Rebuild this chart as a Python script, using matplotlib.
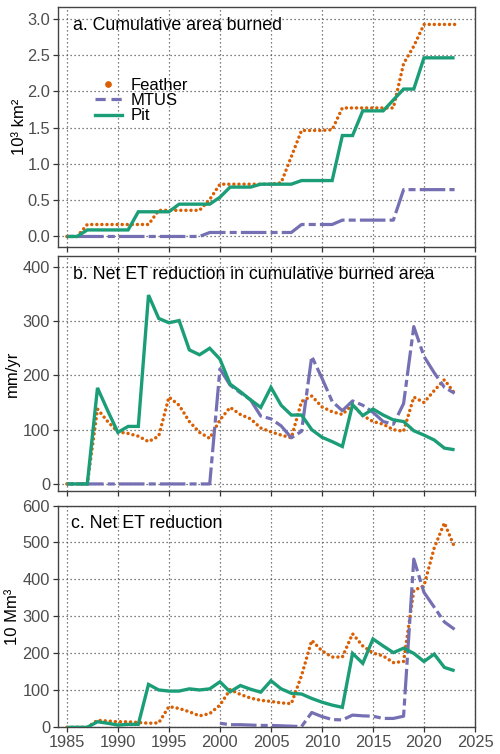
import numpy as np
import matplotlib
matplotlib.use("Agg")
import matplotlib.pyplot as plt
from matplotlib.lines import Line2D

plt.rcParams['font.family'] = ['Liberation Sans', 'DejaVu Sans']

years = list(range(1985, 2024))

# Panel a: cumulative area burned (10^3 km2)
feather_area = [0, 0, 0.165, 0.165, 0.165, 0.165, 0.165, 0.165, 0.165,
                0.36, 0.36, 0.36, 0.36, 0.36, 0.51, 0.72,
                0.72, 0.72, 0.72, 0.72, 0.72, 0.74, 1.10,
                1.46, 1.46, 1.46, 1.47,
                1.77, 1.77, 1.77, 1.77, 1.77, 1.77,
                2.38, 2.62, 2.92, 2.92, 2.92, 2.92]
mtus_area = [0] * 14 + [0.055] * 9 + [0.165] * 4 + [0.225] * 6 + [0.645] * 6
pit_area = [0, 0, 0.09, 0.09, 0.09, 0.09, 0.09,
            0.34, 0.34, 0.34, 0.34,
            0.445, 0.445, 0.445, 0.445, 0.54,
            0.68, 0.68, 0.68,
            0.72, 0.72, 0.72, 0.72,
            0.77, 0.77, 0.77, 0.77,
            1.39, 1.39, 1.73, 1.73, 1.73, 1.88, 2.03, 2.03,
            2.46, 2.46, 2.46, 2.46]

# Panel b: net ET reduction in cumulative burned area (mm/yr)
feather_et = [0, 0, 0, 138, 115, 96, 93, 88, 78, 88,
              160, 145, 115, 95, 84, 118, 141, 128, 120, 103,
              96, 90, 85, 152, 162, 142, 133, 128, 146, 126,
              115, 110, 100, 97, 160, 150, 172, 192, 167]
mtus_et = [0] * 15 + [212, 182, 168, 155, 125, 120, 107, 85, 97, 235,
                      195, 152, 135, 153, 145, 132, 115, 110, 148, 290,
                      235, 205, 178, 167]
pit_et = [0, 0, 0, 177, 135, 95, 106, 106, 348, 305,
          297, 301, 247, 238, 250, 230, 184, 170, 155, 141,
          178, 145, 127, 127, 100, 86, 78, 69, 146, 126,
          138, 127, 118, 115, 98, 90, 81, 66, 63]

# Panel c: net ET reduction (10 Mm3)
feather_vol = [0, 0, 0, 19, 17, 15, 15, 13, 11, 12,
               56, 51, 42, 31, 37, 60, 102, 89, 79, 73,
               70, 66, 64, 140, 235, 207, 190, 190, 253, 220,
               201, 193, 175, 178, 370, 383, 485, 553, 487]
mtus_vol = [np.nan] * 15 + [11, 7, 7, 6, 5, 5, 4, 3, 2, 40,
                            29, 21, 20, 33, 31, 30, 24, 24, 30, 455,
                            365, 325, 285, 265]
pit_vol = [0, 0, 0, 15, 11, 6, 8, 8, 116, 101,
           98, 98, 104, 101, 104, 123, 96, 113, 103, 95,
           126, 104, 92, 90, 78, 68, 60, 54, 200, 173,
           239, 220, 202, 214, 200, 178, 198, 162, 153]

c_feather = '#D95F02'
c_mtus = '#7570B3'
c_pit = '#1B9E77'

fig = plt.figure(figsize=(5, 7.54), dpi=100)
W, H = 500.0, 754.0
left, right = 57.7, 475.0
boxes = [(7, 247), (256, 491), (505.5, 727.3)]
axes = []
for top, bot in boxes:
    ax = fig.add_axes([left / W, 1 - bot / H, (right - left) / W, (bot - top) / H])
    axes.append(ax)

panels = [
    (feather_area, mtus_area, pit_area, (-0.145, 3.16), np.arange(0, 3.01, 0.5),
     "a. Cumulative area burned", "10³ km²", 19),
    (feather_et, mtus_et, pit_et, (-13, 420), np.arange(0, 401, 100),
     "b. Net ET reduction in cumulative burned area", "mm/yr", 12.5),
    (feather_vol, mtus_vol, pit_vol, (0, 600), np.arange(0, 601, 100),
     "c. Net ET reduction", "10 Mm³", 12.5),
]

for i, (ax, (fe, mt, pi, ylim, yt, title, ylab, labx)) in enumerate(zip(axes, panels)):
    ax.plot(years, fe, color=c_feather, lw=2.5, linestyle=(0, (0.01, 1.45)),
            dash_capstyle='round', zorder=3)
    ax.plot(years, mt, color=c_mtus, lw=2.3, linestyle=(0, (2.2, 1.3, 8, 1.3)),
            dash_capstyle='butt', zorder=4)
    ax.plot(years, pi, color=c_pit, lw=2.4, solid_capstyle='butt',
            solid_joinstyle='miter', zorder=5)
    ax.set_xlim(1984.1, 2025)
    ax.set_ylim(*ylim)
    ax.set_yticks(yt)
    if i == 0:
        ax.set_yticklabels([f"{v:.1f}" for v in yt])
    else:
        ax.set_yticklabels([f"{int(v)}" for v in yt])
    ax.set_xticks(range(1985, 2026, 5))
    if i < 2:
        ax.set_xticklabels([])
    ax.grid(True, color='#555555', lw=0.9, linestyle=(0, (1, 2.2)))
    ax.set_axisbelow(True)
    for s in ax.spines.values():
        s.set_color('#444444')
        s.set_linewidth(1.0)
    ax.tick_params(direction='out', length=3.5, width=0.9, color='#333333',
                   labelcolor='#4D4D4D', labelsize=11.8, pad=2)
    ax.text(0.036 if i < 2 else 0.031, 0.921, title, transform=ax.transAxes,
            ha='left', va='center', fontsize=12.8, color='black')
    top, bot = boxes[i]
    fig.text(labx / W, 1 - ((top + bot) / 2) / H, ylab, rotation=90,
             ha='center', va='center', fontsize=12, color='black')

handles = [
    Line2D([], [], color=c_feather, marker='o', markersize=3.8, linestyle='none'),
    Line2D([], [], color=c_mtus, lw=2.3, linestyle=(0, (3.2, 1.8)), dash_capstyle='butt'),
    Line2D([], [], color=c_pit, lw=2.4),
]
leg = axes[0].legend(handles, ["Feather", "MTUS", "Pit"], loc='upper left',
                     bbox_to_anchor=(0.089, 0.705), frameon=False, fontsize=12,
                     handlelength=1.6, handletextpad=0.55, labelspacing=0.02,
                     borderpad=0, borderaxespad=0)

fig.savefig("out.png", dpi=100)
